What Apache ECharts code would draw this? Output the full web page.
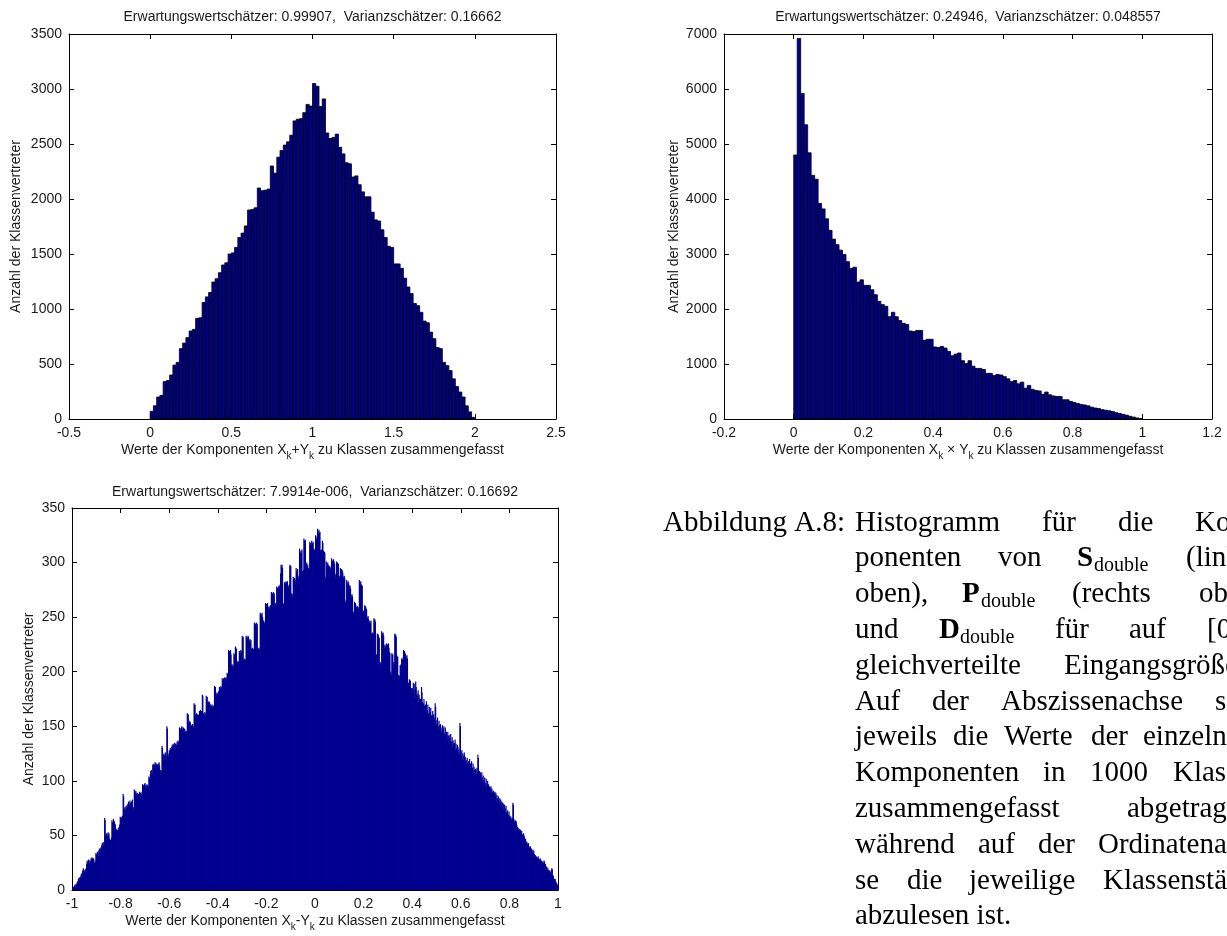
<!DOCTYPE html>
<html>
<head>
<meta charset="utf-8">
<script src="https://cdn.jsdelivr.net/npm/echarts@6/dist/echarts.min.js"></script>
<style>html,body{margin:0;padding:0;background:#fff;}#c{width:1227px;height:936px;}</style>
</head>
<body>
<div id="c"></div>
<script>
// ---------- DATA ----------
// Histogram of X_k + Y_k : 100 classes on [0, 2]
const sumBinStart = 0, sumBinWidth = 0.02;
const sumCounts = [
70,120,200,215,340,350,400,490,515,640,
690,740,800,815,915,920,1060,1110,1150,1245,
1275,1330,1400,1420,1500,1510,1560,1650,1690,1755,
1900,1905,1920,2100,2075,2080,2090,2300,2235,2380,
2440,2490,2520,2580,2710,2725,2730,2785,2860,2845,
3050,3025,2840,2910,2600,2550,2560,2590,2470,2410,
2330,2320,2200,2210,2130,2065,2020,2020,1880,1810,
1800,1720,1650,1570,1560,1410,1410,1370,1280,1200,
1140,1050,1030,970,890,875,790,730,650,640,
515,485,440,365,295,245,200,120,65,15];

// Histogram of X_k * Y_k : 100 classes on [0, 1]
const prodBinStart = 0, prodBinWidth = 0.01;
const prodCounts = [
4800,6920,5920,5350,4840,4430,4360,3920,3820,3640,
3430,3270,3170,3070,2990,2860,2740,2760,2490,2530,
2430,2430,2350,2260,2140,2080,2050,1860,1940,1860,
1790,1740,1720,1600,1590,1610,1610,1430,1450,1450,
1310,1300,1320,1290,1230,1150,1180,1200,1060,1010,
1060,960,920,920,900,830,830,790,810,800,
770,730,680,700,640,670,560,610,540,520,
510,450,490,440,420,410,410,350,350,320,
300,280,265,255,240,215,200,190,170,160,
150,135,115,100,85,70,50,35,20,8];

// Histogram of X_k - Y_k : 1000 classes on [-1, 1]
const diffBinStart = -1, diffBinWidth = 0.002;
const diffCounts = [
1,2,3,2,4,5,3,5,6,5,
8,7,10,11,9,12,11,13,15,12,
16,18,20,17,18,16,19,17,20,24,
27,25,26,28,27,24,26,27,29,28,
30,29,27,29,28,25,24,26,34,32,
33,35,34,31,36,38,37,35,39,38,
41,43,40,44,42,39,66,64,50,48,
52,51,49,53,50,52,47,45,46,44,
48,64,62,60,65,58,63,61,60,55,
56,54,55,53,57,55,58,60,67,66,
64,67,65,68,88,86,75,74,76,73,
77,75,78,76,79,81,80,78,82,79,
80,81,78,83,75,74,76,92,90,88,
91,89,88,86,89,87,88,85,90,87,
89,88,86,90,97,95,96,94,97,98,
95,96,94,97,96,93,95,104,102,103,
106,109,110,105,107,115,114,116,113,115,
117,114,115,116,113,115,112,116,117,114,
108,110,106,109,132,130,124,123,125,122,
124,126,121,123,150,148,120,122,125,128,
126,130,128,129,131,133,132,134,130,133,
135,131,134,132,133,136,134,137,135,136,
149,147,148,146,149,150,147,148,149,146,
148,147,145,144,146,143,162,160,161,154,
155,153,154,152,150,151,149,152,150,148,
171,169,170,161,160,162,159,161,158,160,
161,164,162,165,163,164,163,179,178,162,
161,159,163,160,162,178,176,177,172,170,
173,171,172,168,170,169,167,170,168,166,
169,167,187,185,186,180,178,181,179,180,
182,178,186,185,184,187,185,186,194,192,
193,194,191,195,193,194,195,192,199,198,
197,220,218,219,217,220,216,206,207,205,
206,204,217,215,216,223,222,221,209,208,
210,209,207,219,218,217,220,216,219,233,
231,232,211,210,212,209,211,233,231,232,
230,233,232,229,228,230,227,229,221,220,
222,219,221,220,245,243,244,242,245,241,
244,221,220,222,219,221,254,252,253,251,
254,250,246,247,245,244,246,263,261,262,
260,263,259,258,260,257,259,261,258,273,
271,272,270,273,269,272,262,260,263,261,
278,276,277,275,278,279,276,280,290,298,
296,298,295,263,262,261,282,280,281,283,
282,280,283,278,277,279,280,298,296,297,
270,272,268,271,287,285,283,286,284,280,
295,292,290,294,287,285,288,313,310,308,
311,309,312,292,290,293,322,320,318,321,
299,297,300,296,298,295,293,294,319,316,
318,315,320,318,317,319,313,310,312,311,
325,322,320,324,331,329,326,330,327,328,
311,309,312,310,320,318,311,308,310,309,
285,287,301,299,297,300,298,296,294,297,
295,293,296,304,300,302,298,303,301,299,
289,287,290,301,298,300,297,299,287,285,
288,295,292,294,290,293,291,287,285,288,
286,264,262,266,284,282,280,283,281,279,
277,279,276,270,268,271,269,253,255,252,
264,262,263,261,259,258,260,257,256,259,
284,282,281,283,280,278,279,255,254,256,
253,261,259,260,258,257,250,249,251,248,
247,245,246,244,247,235,234,236,233,235,
249,247,248,246,214,216,213,235,233,234,
232,231,207,209,206,208,237,235,234,236,
233,224,222,225,223,221,226,224,225,223,
226,222,218,217,198,200,197,217,215,216,
206,209,207,235,233,234,232,215,213,214,
195,197,194,196,206,205,207,212,210,211,
213,220,218,219,217,216,214,213,215,212,
188,190,187,193,191,192,183,185,182,184,
185,190,181,189,176,184,191,186,178,180,
178,183,172,179,176,168,175,173,186,181,
172,166,171,175,169,163,170,166,173,165,
165,170,161,162,168,158,163,167,160,159,
160,164,155,161,158,153,171,168,156,151,
153,158,150,147,155,151,146,152,149,144,
147,151,143,148,150,141,144,149,139,145,
142,138,145,141,134,142,139,136,143,133,
136,140,131,137,134,129,135,138,128,134,
130,125,133,131,126,129,124,153,150,127,
124,128,121,125,119,123,126,118,122,116,
119,115,121,117,112,118,114,120,111,116,
114,118,110,112,116,107,113,110,104,111,
110,106,112,108,124,121,103,109,105,108,
106,101,108,103,99,105,100,97,103,96,
98,102,95,96,100,93,97,91,95,94,
92,95,88,93,90,86,91,84,89,90,
86,89,82,87,84,80,86,83,79,84,
80,83,77,81,76,80,74,79,73,78,
75,72,77,71,70,73,68,69,72,67,
68,66,67,65,64,66,80,78,65,63,
62,64,61,63,60,58,56,57,55,54,
56,53,55,52,54,50,51,49,52,50,
48,46,47,45,43,44,42,41,43,40,
39,38,40,37,38,36,35,37,34,36,
33,31,32,30,31,29,30,28,31,29,
28,27,29,28,26,27,25,26,24,25,
27,26,23,24,22,20,21,19,20,18,
17,18,16,15,17,18,20,19,14,13,
11,10,9,10,8,7,6,5,4,2];

// Axis ranges / tick steps
const sumX = {min: -0.5, max: 2.5, interval: 0.5};
const sumY = {min: 0, max: 3500, interval: 500};
const prodX = {min: -0.2, max: 1.2, interval: 0.2};
const prodY = {min: 0, max: 7000, interval: 1000};
const diffX = {min: -1, max: 1, interval: 0.2};
const diffY = {min: 0, max: 350, interval: 50};

const titles = [
  'Erwartungswertschätzer: 0.99907,  Varianzschätzer: 0.16662',
  'Erwartungswertschätzer: 0.24946,  Varianzschätzer: 0.048557',
  'Erwartungswertschätzer: 7.9914e-006,  Varianzschätzer: 0.16692'
];
const xNames = [
  '{n|Werte der Komponenten X}{s|k}{n|+Y}{s|k}{n| zu Klassen zusammengefasst}',
  '{n|Werte der Komponenten X}{s|k}{n| × Y}{s|k}{n| zu Klassen zusammengefasst}',
  '{n|Werte der Komponenten X}{s|k}{n|-Y}{s|k}{n| zu Klassen zusammengefasst}'
];
const yName = 'Anzahl der Klassenvertreter';

const captionLines = [
  [['Abbildung A.8:', 663], ['Histogramm', 855], ['für', 1042], ['die', 1118], ['Kom-', 1195]],
  [['ponenten', 855], ['von', 998], ['S', 1077, 'b'], ['double', 1094, 's'], ['(links', 1186]],
  [['oben),', 855], ['P', 962, 'b'], ['double', 981, 's'], ['(rechts', 1072], ['oben)', 1199]],
  [['und', 855], ['D', 939, 'b'], ['double', 960, 's'], ['für', 1055], ['auf', 1129], ['[0,1]', 1207]],
  [['gleichverteilte', 855], ['Eingangsgrößen.', 1064]],
  [['Auf', 855], ['der', 932], ['Abszissenachse', 1001], ['sind', 1215]],
  [['jeweils', 855], ['die', 953], ['Werte', 1004], ['der', 1091], ['einzelnen', 1143]],
  [['Komponenten', 855], ['in', 1043], ['1000', 1090], ['Klassen', 1173]],
  [['zusammengefasst', 855], ['abgetragen,', 1127]],
  [['während', 855], ['auf', 978], ['der', 1038], ['Ordinatenach-', 1098]],
  [['se', 855], ['die', 907], ['jeweilige', 969], ['Klassenstärke', 1103]],
  [['abzulesen ist.', 855]]
];

// ---------- CHART ----------
const FONT = '"Liberation Sans", Arial, Helvetica, sans-serif';
const SERIF = '"Liberation Serif", "Times New Roman", serif';
const TXT = '#1a1a1a';
const BAR = '#00008F';

const grids = [
  {left: 69, top: 34, width: 487, height: 385},
  {left: 724, top: 34, width: 488, height: 385},
  {left: 72, top: 508, width: 486, height: 382}
];

function fmt(v) { return String(+(+v).toFixed(4)); }
function axisBase(showLabel) {
  return {
    type: 'value',
    axisLine: {show: true, onZero: false, lineStyle: {color: '#000', width: 1}},
    axisTick: {show: true, inside: true, length: 5, lineStyle: {color: '#000', width: 1}},
    axisLabel: {show: showLabel, color: TXT, fontSize: 14, fontFamily: FONT, margin: 7, formatter: fmt},
    splitLine: {show: false}
  };
}
const richName = {
  fontSize: 14, fontFamily: FONT, color: TXT,
  rich: {
    n: {fontSize: 14, fontFamily: FONT, color: TXT, verticalAlign: 'top', lineHeight: 16},
    s: {fontSize: 10, fontFamily: FONT, color: TXT, verticalAlign: 'top', lineHeight: 11, padding: [8, 0, 0, 0]}
  }
};

const xs = [sumX, prodX, diffX], ys = [sumY, prodY, diffY];
const yGaps = [46, 43, 36];
const xAxis = [], yAxis = [];
for (let i = 0; i < 3; i++) {
  xAxis.push(Object.assign(axisBase(true), xs[i], {gridIndex: i, position: 'bottom',
    name: xNames[i], nameLocation: 'middle', nameGap: 24, nameTextStyle: richName}));
  xAxis.push(Object.assign(axisBase(false), xs[i], {gridIndex: i, position: 'top'}));
  yAxis.push(Object.assign(axisBase(true), ys[i], {gridIndex: i, position: 'left',
    name: yName, nameLocation: 'middle', nameGap: yGaps[i], nameRotate: 90,
    nameTextStyle: {fontSize: 14, fontFamily: FONT, color: TXT}}));
  yAxis.push(Object.assign(axisBase(false), ys[i], {gridIndex: i, position: 'right'}));
}

function histData(start, width, counts) {
  return counts.map((c, i) => [start + i * width, start + (i + 1) * width, c]);
}
function histSeries(idx, data, edged) {
  return {
    type: 'custom', xAxisIndex: 2 * idx, yAxisIndex: 2 * idx,
    data: data, progressive: 0, animation: false, silent: true,
    renderItem: function (params, api) {
      const p0 = api.coord([api.value(0), api.value(2)]);
      const p1 = api.coord([api.value(1), 0]);
      return {
        type: 'rect',
        shape: {x: p0[0], y: p0[1], width: (p1[0] - p0[0]) + (edged ? 0 : 0.7), height: p1[1] - p0[1]},
        style: edged ? {fill: BAR, stroke: '#000', lineWidth: 0.8} : {fill: BAR}
      };
    }
  };
}

const graphic = [];
captionLines.forEach((line, k) => {
  const yc = 523 + 35.8 * k;
  line.forEach(w => {
    const kind = w[2];
    graphic.push({
      type: 'text', silent: true,
      style: {
        text: w[0], x: w[1], y: kind === 's' ? yc + 7 : yc,
        fill: '#000',
        font: (kind === 'b' ? 'bold ' : '') + (kind === 's' ? '20px ' : '29px ') + SERIF,
        textAlign: 'left', textVerticalAlign: 'middle', verticalAlign: 'middle'
      }
    });
  });
});

const centers = [312.5, 968, 315];
const titleTops = [10, 10, 485];
const option = {
  animation: false,
  backgroundColor: '#fff',
  title: titles.map((t, i) => ({
    text: t, left: centers[i], top: titleTops[i], textAlign: 'center', padding: 0,
    textStyle: {fontSize: 14, fontWeight: 'normal', color: TXT, fontFamily: FONT}
  })),
  grid: grids,
  xAxis: xAxis,
  yAxis: yAxis,
  series: [
    histSeries(0, histData(sumBinStart, sumBinWidth, sumCounts), true),
    histSeries(1, histData(prodBinStart, prodBinWidth, prodCounts), true),
    histSeries(2, histData(diffBinStart, diffBinWidth, diffCounts), false)
  ],
  graphic: graphic
};

const chart = echarts.init(document.getElementById('c'), null, {renderer: 'canvas'});
chart.setOption(option);
</script>
</body>
</html>
